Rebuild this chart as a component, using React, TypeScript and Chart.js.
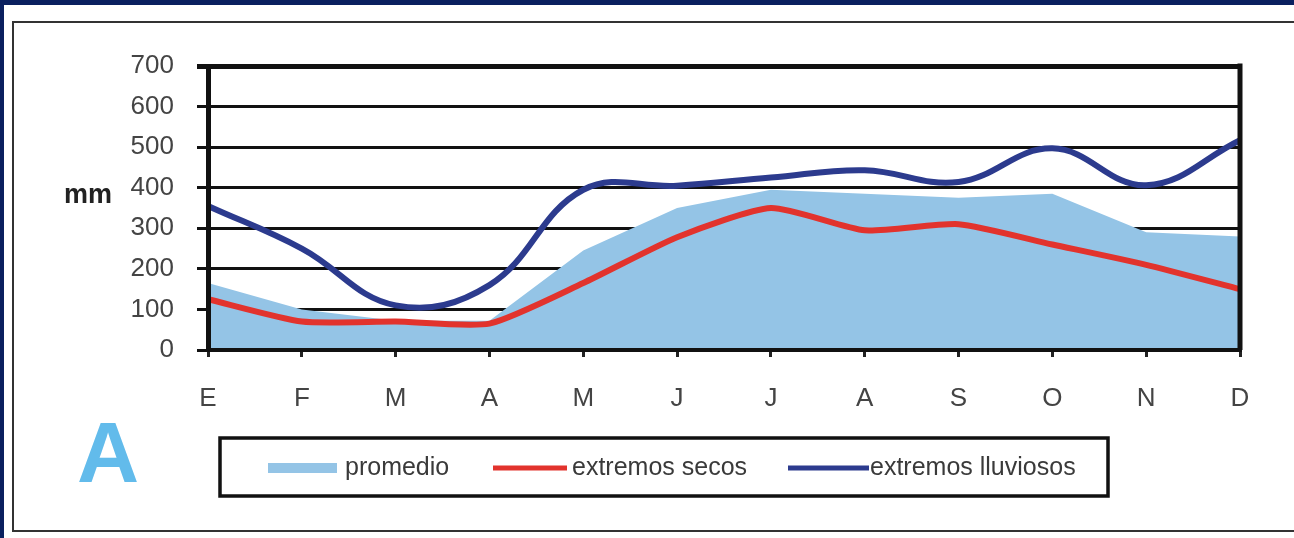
import React, { useEffect, useRef } from 'react';
import { Chart, registerables } from 'chart.js';

Chart.register(...registerables);

const months = ['E', 'F', 'M', 'A', 'M', 'J', 'J', 'A', 'S', 'O', 'N', 'D'];
const promedio = [165, 100, 72, 72, 245, 350, 395, 385, 375, 385, 290, 280];
const extremosSecos = [125, 70, 70, 65, 165, 278, 350, 295, 310, 260, 210, 150];
const extremosLluviosos = [355, 250, 110, 160, 395, 405, 425, 443, 414, 497, 406, 517];
const yTickValues = [0, 100, 200, 300, 400, 500, 600, 700];
const seriesLabels = ['promedio', 'extremos secos', 'extremos lluviosos'];
const yAxisTitle = 'mm';
const panelLetter = 'A';

const FONT = '"Liberation Sans", Arial, Helvetica, sans-serif';
const AREA_COLOR = '#94c4e6';
const RED = '#e2332d';
const BLUE = '#2c3b8e';
const NAVY = '#0a205f';

const decorPlugin = {
  id: 'decor',
  afterDatasetsDraw(chart: any) {
    const { ctx, chartArea: ca } = chart;
    ctx.save();
    ctx.strokeStyle = '#111';
    ctx.lineWidth = 5;
    ctx.beginPath();
    ctx.moveTo(ca.right, ca.top - 2.5);
    ctx.lineTo(ca.right, ca.bottom);
    ctx.stroke();
    ctx.restore();
  },
  afterDraw(chart: any) {
    const { ctx } = chart;
    const yScale = chart.scales.y;
    ctx.save();
    // y-axis title
    ctx.font = `bold 27px ${FONT}`;
    ctx.fillStyle = '#222';
    ctx.textAlign = 'right';
    ctx.textBaseline = 'alphabetic';
    ctx.fillText(yAxisTitle, 112, yScale.getPixelForValue(400) + 15);

    // big panel letter
    ctx.font = `bold 86px ${FONT}`;
    ctx.fillStyle = '#62bbeb';
    ctx.textAlign = 'left';
    ctx.fillText(panelLetter, 77, 482);

    // legend box
    ctx.strokeStyle = '#111';
    ctx.lineWidth = 3.5;
    ctx.strokeRect(220, 438, 888, 58);
    const items = [
      { x0: 268, x1: 337, lw: 10, tx: 345 },
      { x0: 493, x1: 567, lw: 5, tx: 572 },
      { x0: 788, x1: 869, lw: 5, tx: 870 },
    ];
    const y = 468;
    chart.data.datasets.forEach((ds: any, i: number) => {
      const it = items[i];
      ctx.strokeStyle = i === 0 ? ds.backgroundColor : ds.borderColor;
      ctx.lineWidth = it.lw;
      ctx.lineCap = 'butt';
      ctx.beginPath();
      ctx.moveTo(it.x0, y);
      ctx.lineTo(it.x1, y);
      ctx.stroke();
      ctx.font = `25px ${FONT}`;
      ctx.fillStyle = '#3a3a3a';
      ctx.textAlign = 'left';
      ctx.textBaseline = 'middle';
      ctx.fillText(ds.label, it.tx, y);
    });
    ctx.restore();
  },
};

export default function App() {
  const canvasRef = useRef<HTMLCanvasElement | null>(null);

  useEffect(() => {
    document.body.style.margin = '0';
    const canvas = canvasRef.current;
    if (!canvas) return;
    const chart = new Chart(canvas, {
      type: 'line',
      data: {
        labels: months,
        datasets: [
          {
            label: seriesLabels[0],
            data: promedio,
            backgroundColor: AREA_COLOR,
            borderColor: AREA_COLOR,
            borderWidth: 0,
            fill: 'origin',
            tension: 0,
            pointRadius: 0,
            order: 3,
          },
          {
            label: seriesLabels[1],
            data: extremosSecos,
            borderColor: RED,
            backgroundColor: RED,
            borderWidth: 6,
            fill: false,
            tension: 0.2,
            pointRadius: 0,
            order: 2,
          },
          {
            label: seriesLabels[2],
            data: extremosLluviosos,
            borderColor: BLUE,
            backgroundColor: BLUE,
            borderWidth: 6,
            fill: false,
            tension: 0.4,
            pointRadius: 0,
            order: 1,
          },
        ],
      },
      options: {
        animation: false,
        responsive: true,
        maintainAspectRatio: false,
        layout: { padding: { top: 66, right: 54, left: 0, bottom: 0 } },
        plugins: {
          legend: { display: false },
          tooltip: { enabled: false },
          title: { display: false },
        },
        scales: {
          x: {
            type: 'category',
            offset: false,
            grid: {
              drawOnChartArea: false,
              drawTicks: true,
              tickLength: 7,
              color: '#222',
              lineWidth: 3,
            },
            border: { display: true, color: '#111', width: 4, z: 1 },
            ticks: {
              color: '#444',
              font: { family: FONT, size: 26 },
              padding: 26,
              maxRotation: 0,
              autoSkip: false,
            },
            afterFit: (scale: any) => {
              scale.height = 188;
            },
          },
          y: {
            min: 0,
            max: 700,
            afterBuildTicks: (scale: any) => {
              scale.ticks = yTickValues.map((v) => ({ value: v }));
            },
            grid: {
              color: '#111',
              lineWidth: (c: any) => (c.tick && c.tick.value === 700 ? 5 : 3),
              drawTicks: true,
              tickLength: 11,
            },
            border: { display: true, color: '#111', width: 5, z: 1 },
            ticks: {
              color: '#444',
              font: { family: FONT, size: 26 },
              padding: 23,
            },
            afterFit: (scale: any) => {
              scale.width = 208;
            },
          },
        },
      },
      plugins: [decorPlugin],
    });
    return () => chart.destroy();
  }, []);

  return (
    <div
      style={{
        position: 'fixed',
        left: 0,
        top: 0,
        width: 1294,
        height: 538,
        background: NAVY,
        overflow: 'hidden',
      }}
    >
      <div
        style={{
          position: 'absolute',
          left: 4,
          top: 5,
          width: 1300,
          height: 540,
          background: '#fff',
        }}
      />
      <div
        style={{
          position: 'absolute',
          left: 12,
          top: 21,
          width: 1310,
          height: 507,
          border: '2px solid #333',
        }}
      />
      <div style={{ position: 'absolute', left: 0, top: 0, width: 1294, height: 538 }}>
        <canvas ref={canvasRef} style={{ width: '100%', height: '100%' }} />
      </div>
    </div>
  );
}
